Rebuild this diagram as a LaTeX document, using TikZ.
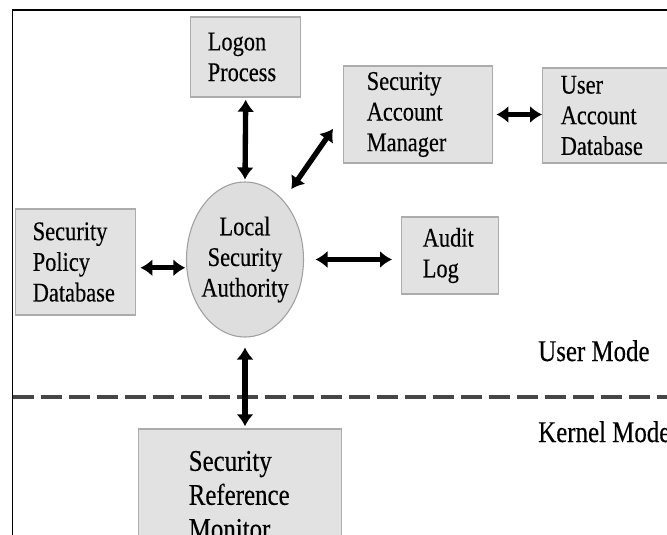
\documentclass[tikz,border=0pt]{standalone}
\usepackage{fontspec}
\setmainfont{Liberation Serif}[FakeStretch=0.83,FakeBold=0.3]
\usepackage{tikz}
\usetikzlibrary{arrows.meta,shapes}

\newcommand{\boxfont}{\fontsize{20.25}{23}\selectfont}
\newcommand{\lblfont}{\fontsize{22.5}{25.5}\selectfont}

\begin{document}
\begin{tikzpicture}[x=0.75pt,y=0.75pt,yscale=-1,xscale=1,
  sbox/.style={draw={rgb, 255:red, 172; green, 172; blue, 172}, fill={rgb, 255:red, 226; green, 226; blue, 226}, line width=1.1pt, rectangle, anchor=west, align=left, inner ysep=0pt, font=\boxfont},
  lsabox/.style={draw={rgb, 255:red, 160; green, 160; blue, 160}, fill={rgb, 255:red, 222; green, 222; blue, 222}, line width=0.8pt, ellipse, align=center, inner xsep=-3pt, inner ysep=0pt, minimum width=87.75pt, minimum height=116.25pt, font=\boxfont},
  dblarrow/.style={line width=4pt, {Latex[length=9pt,width=13pt]}-{Latex[length=9pt,width=13pt]}},
  modetext/.style={anchor=base west, inner sep=0pt, font=\lblfont}
  ]
  \useasboundingbox (0,0) rectangle (667,535);
  \clip (0,0) rectangle (667,535);

  %Frame
  \draw [line width=1.3pt] (12.5,540) -- (12.5,10) -- (672,10) ;
  %Dashed Line
  \draw [color={rgb, 255:red, 70; green, 70; blue, 70}, line width=2.4pt, dash pattern=on 15.75pt off 5.25pt] (13,397) -- (672,397) ;

  %Boxes
  \node [sbox, text width=57pt, inner xsep=12.75pt, minimum height=60pt] (logon) at (190,57) {Logon\\Process};
  \node [sbox, text width=77.25pt, inner xsep=17.25pt, minimum height=72.75pt] (sam) at (343,114.5) {Security\\Account\\Manager};
  \node [sbox, text width=120pt, inner xsep=13.5pt, minimum height=71.25pt] (uad) at (542,115.5) {User\\Account\\Database};
  \node [sbox, text width=41.25pt, inner xsep=15.75pt, minimum height=57.75pt] (audit) at (401,255.5) {Audit\\Log};
  \node [sbox, text width=64.5pt, inner xsep=12.75pt, minimum height=79.5pt] (spd) at (15,262) {Security\\Policy\\Database};
  \node [sbox, text width=77.25pt, inner xsep=37.5pt, minimum height=99pt, font=\lblfont] (srm) at (138,495) {Security\\Reference\\Monitor};
  %Ellipse
  \node [lsabox] (lsa) at (245,259.5) {Local\\Security\\Authority};

  %Arrows
  \draw [dblarrow, shorten <=1.5pt, shorten >=1.5pt] (logon.south) -- (lsa.north) ;
  \draw [dblarrow, shorten <=10.3pt, shorten >=13.1pt] (lsa.57) -- (sam.west) ;
  \draw [dblarrow, shorten <=2.25pt] (sam.east) -- (sam.east -| uad.west) ;
  \draw [dblarrow, shorten <=3pt, shorten >=0.75pt] (lsa.188 -| spd.east) -- (lsa.188) ;
  \draw [dblarrow, shorten <=8.6pt, shorten >=6.75pt] (lsa.east) -- (lsa.east -| audit.west) ;
  \draw [dblarrow, shorten <=7.5pt, shorten >=1.5pt] (lsa.south) -- (lsa.south |- srm.north) ;

  % Text Node
  \node [modetext] (user) at (538,361) {User Mode};
  % Text Node
  \node [modetext] (kernel) at (538,442) {Kernel Mode};
\end{tikzpicture}
\end{document}
